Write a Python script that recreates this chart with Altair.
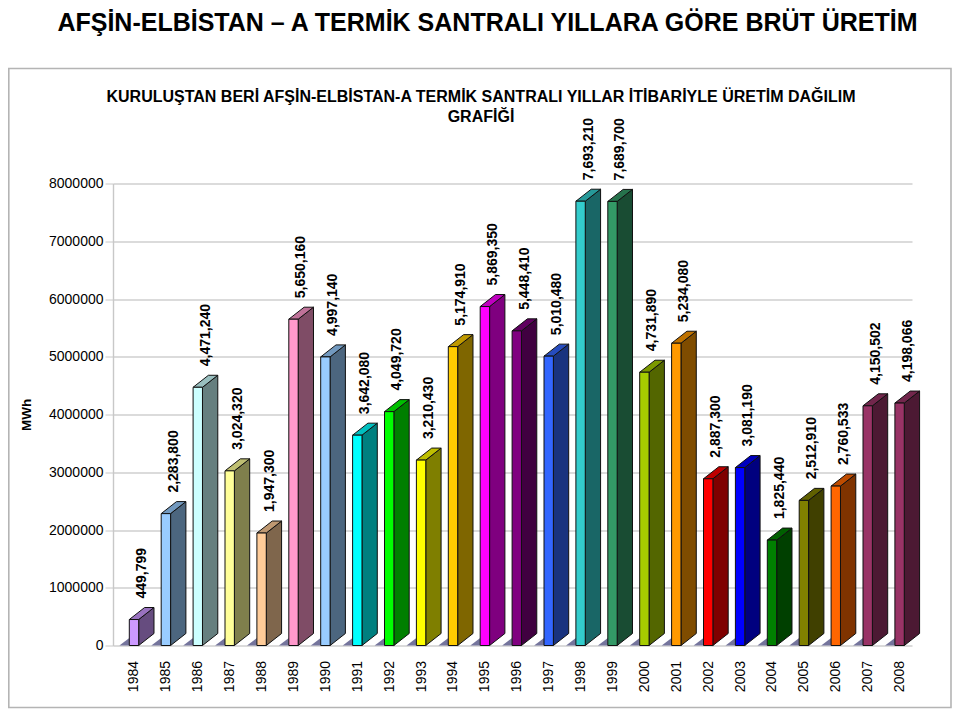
import altair as alt
import pandas as pd

years = list(range(1984, 2009))
values = [449799, 2283800, 4471240, 3024320, 1947300, 5650160, 4997140, 3642080,
          4049720, 3210430, 5174910, 5869350, 5448410, 5010480, 7693210, 7689700,
          4731890, 5234080, 2887300, 3081190, 1825440, 2512910, 2760533, 4150502, 4198066]
labels = ["449,799", "2,283,800", "4,471,240", "3,024,320", "1,947,300", "5,650,160",
          "4,997,140", "3,642,080", "4,049,720", "3,210,430", "5,174,910", "5,869,350",
          "5,448,410", "5,010,480", "7,693,210", "7,689,700", "4,731,890", "5,234,080",
          "2,887,300", "3,081,190", "1,825,440", "2,512,910", "2,760,533", "4,150,502", "4,198,066"]
front_colors = ["#CC99FF", "#99CCFF", "#CCFFFF", "#FFFF99", "#FFCC99", "#FF99CC", "#99CCFF",
                "#00FFFF", "#00FF00", "#FFFF00", "#FFCC00", "#FF00FF", "#800080", "#3366FF",
                "#33CCCC", "#339966", "#A6CC00", "#FF9900", "#FF0000", "#0000FF", "#008000",
                "#808000", "#FF6600", "#993366", "#993366"]
main_title = "AFŞİN-ELBİSTAN – A TERMİK SANTRALI YILLARA GÖRE BRÜT ÜRETİM"
chart_title = "KURULUŞTAN BERİ AFŞİN-ELBİSTAN-A TERMİK SANTRALI YILLAR İTİBARİYLE ÜRETİM DAĞILIM\nGRAFİĞİ"
y_ticks = [0, 1000000, 2000000, 3000000, 4000000, 5000000, 6000000, 7000000, 8000000]

HALF = 0.147      # half bar width, in years
DEPTH_X = 0.48    # oblique depth, in years
DEPTH_Y = 208000  # oblique depth, in MWh
FLOOR_X = 0.31
FLOOR_Y = 130000


def shade(c, k):
    r, g, b = int(c[1:3], 16), int(c[3:5], 16), int(c[5:7], 16)
    return "#%02x%02x%02x" % (int(r * k), int(g * k), int(b * k))


front, side, top, floor, text_rows = [], [], [], [], []
for yr, v, lab, c in zip(years, values, labels, front_colors):
    L, R = yr - HALF, yr + HALF
    front.append(dict(year=yr, x0=L, x1=R, y0=0, y1=v, c=c))
    side.append(dict(year=yr, x=R, y0=0, y1=v, c=shade(c, 0.5)))
    side.append(dict(year=yr, x=R + DEPTH_X, y0=DEPTH_Y, y1=v + DEPTH_Y, c=shade(c, 0.5)))
    top.append(dict(year=yr, y=v, x0=L, x1=R, c=shade(c, 0.75)))
    top.append(dict(year=yr, y=v + DEPTH_Y, x0=L + DEPTH_X, x1=R + DEPTH_X, c=shade(c, 0.75)))
    floor.append(dict(year=yr, x=L - FLOOR_X, y0=0, y1=0))
    floor.append(dict(year=yr, x=L, y0=0, y1=FLOOR_Y))
    text_rows.append(dict(x=yr + 0.25, y=v + DEPTH_Y, label=lab))

FONT = "Liberation Sans"
x_scale = alt.Scale(domain=[1983.342, 2008.389], nice=False, zero=False)
y_scale = alt.Scale(domain=[0, 8000000], nice=False, zero=False)

x_axis = alt.Axis(values=years, format="d", title=None, grid=False, domain=False, ticks=False,
                  labelAngle=270, labelAlign="right", labelBaseline="middle", labelPadding=15,
                  labelFontSize=14, labelColor="#000000", labelFont=FONT, labelOverlap=False,
                  labelFlush=False)
y_axis = alt.Axis(values=y_ticks, format="d", title="MWh", titleFont=FONT, titleFontSize=13.5,
                  titleFontWeight="bold", titleColor="#000000", titlePadding=15,
                  grid=True, gridColor="#cfcfcf", gridWidth=1.4,
                  domain=True, domainColor="#c8c8c8", domainWidth=1.4,
                  tickColor="#c8c8c8", tickSize=8, labelPadding=2, labelFontSize=14,
                  labelColor="#000000", labelFont=FONT, labelOverlap=False)


def qx(f):
    return alt.X(f, scale=x_scale, axis=x_axis)


def qy(f):
    return alt.Y(f, scale=y_scale, axis=y_axis)


frame = alt.Chart(pd.DataFrame({"a": [0]})).mark_rect(fill="transparent", stroke="#b4b4b4", strokeWidth=1.6).encode(
    x=alt.value(-104.2), x2=alt.value(838), y=alt.value(-115), y2=alt.value(524))

floor_l = alt.Chart(pd.DataFrame(floor)).mark_area(color="#74749c", line=False).encode(
    x=qx("x:Q"), y=qy("y1:Q"), y2="y0:Q", detail="year:N")

side_l = alt.Chart(pd.DataFrame(side)).mark_area(stroke="#101010", strokeWidth=1).encode(
    x=qx("x:Q"), y=qy("y1:Q"), y2="y0:Q", detail="year:N",
    fill=alt.Fill("c:N", scale=None))

top_l = alt.Chart(pd.DataFrame(top)).mark_area(orient="horizontal", stroke="#101010", strokeWidth=1).encode(
    y=qy("y:Q"), x=qx("x0:Q"), x2="x1:Q", detail="year:N",
    fill=alt.Fill("c:N", scale=None))

front_l = alt.Chart(pd.DataFrame(front)).mark_rect(stroke="#101010", strokeWidth=1).encode(
    x=qx("x0:Q"), x2="x1:Q", y=qy("y0:Q"), y2="y1:Q",
    fill=alt.Fill("c:N", scale=None))

text_l = alt.Chart(pd.DataFrame(text_rows)).mark_text(
    angle=270, align="left", baseline="middle", dx=9, fontSize=14, font=FONT,
    fontWeight="bold", color="#000000").encode(
    x=qx("x:Q"), y=qy("y:Q"), text="label:N")

sub_l = alt.Chart(pd.DataFrame({"t": [chart_title]})).mark_text(
    font=FONT, fontSize=16, fontWeight="bold", color="#000000", lineBreak="\n", lineHeight=20,
    align="center", baseline="top").encode(
    x=alt.value(368), y=alt.value(-95), text="t:N")

chart = alt.layer(frame, floor_l, side_l, top_l, front_l, text_l, sub_l).properties(
    width=799, height=462,
    padding={"left": 105, "top": 175.5, "right": 40, "bottom": 63},
    autosize=alt.AutoSizeParams(type="none"),
    background="#ffffff",
    title=alt.TitleParams(text=main_title, font=FONT, fontSize=25, fontWeight="bold", color="#000000",
                          anchor="middle", frame="group", dx=-25, offset=32),
).configure_view(stroke=None).resolve_scale(x="shared", y="shared")

chart.save("out.html", embed_options={"renderer": "svg", "actions": False})
